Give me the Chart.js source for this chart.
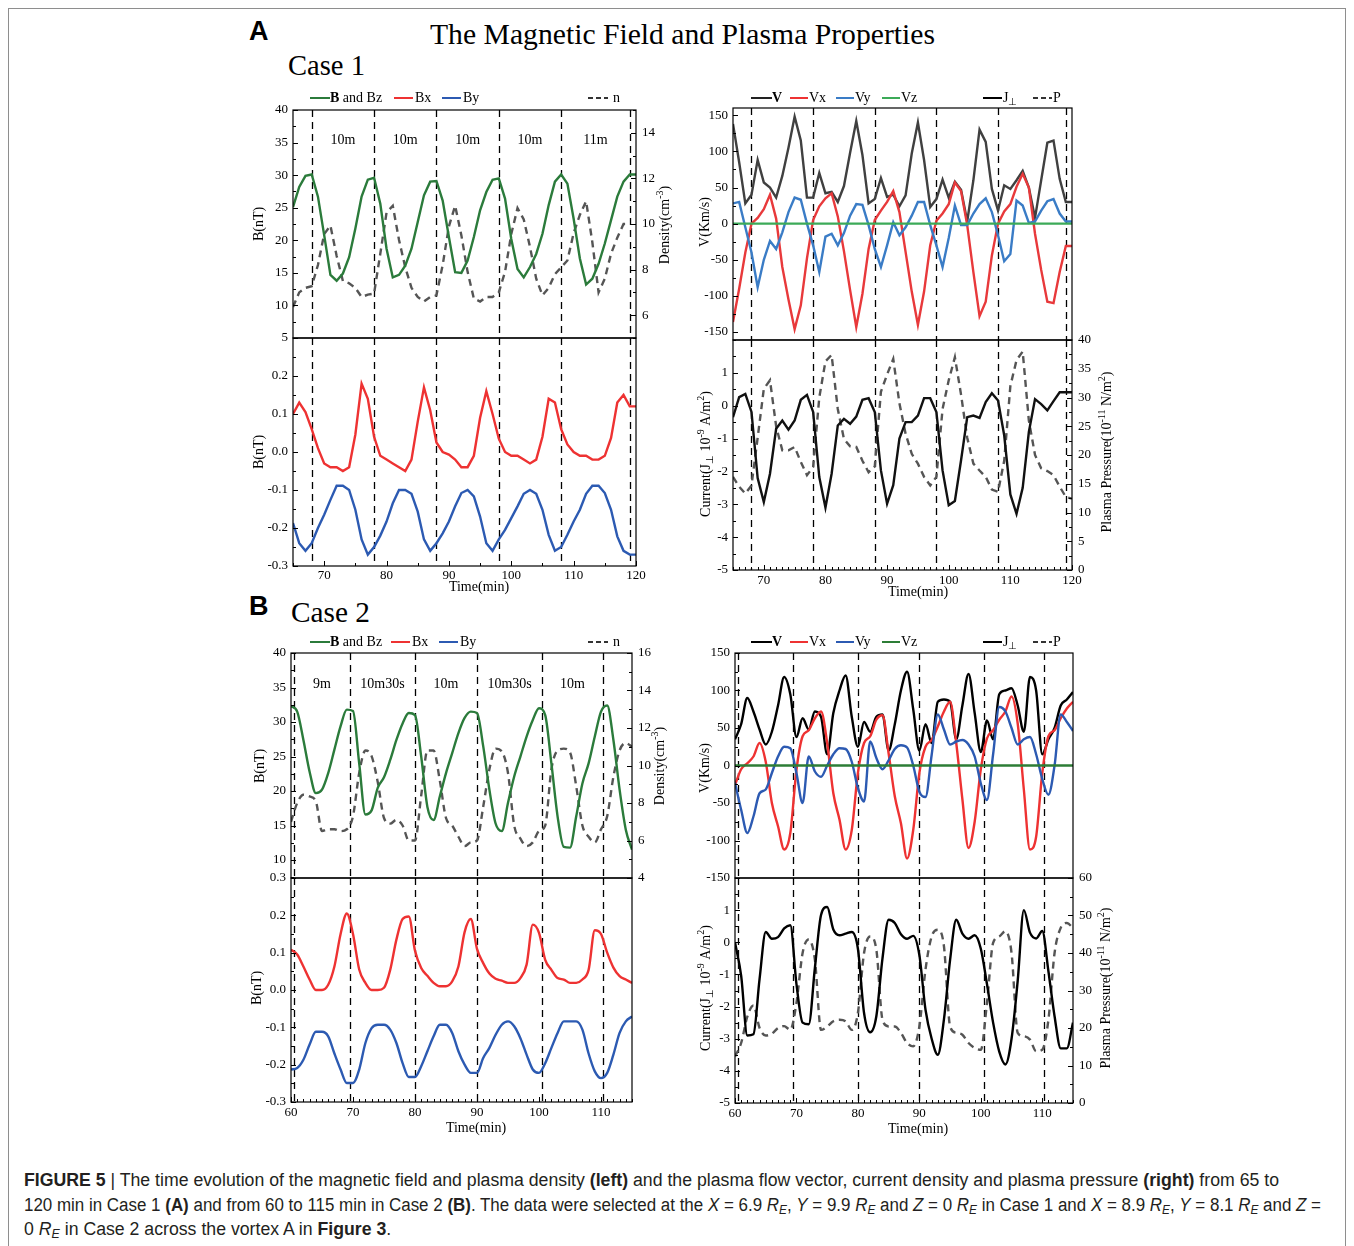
<!DOCTYPE html>
<html>
<head>
<meta charset="utf-8">
<title>Figure 5</title>
<script src="https://cdn.jsdelivr.net/npm/chart.js@4.4.1/dist/chart.umd.min.js"></script>
<style>
  html, body { margin:0; padding:0; background:#fff; }
  body { width:1354px; height:1246px; position:relative; overflow:hidden; }
  #box { position:absolute; left:8px; top:8px; width:1338px; height:1260px; border:1px solid #8e8e8e; box-sizing:border-box; }
  canvas { position:absolute; }
  .t { position:absolute; white-space:nowrap; color:#000; transform-origin:0 50%; }
  .serif { font-family:"Liberation Serif","Times New Roman",serif; }
  .sans { font-family:"Liberation Sans",Arial,sans-serif; }
  .leg { position:absolute; white-space:nowrap; font:14px "Liberation Serif","Times New Roman",serif; line-height:16px; color:#000; }
  .leg sub { font-size:10px; vertical-align:-3px; line-height:0; }
  .ln { display:inline-block; height:2.5px; vertical-align:middle; position:relative; top:-1px; }
  .cap { position:absolute; left:24px; white-space:nowrap; font:18px "Liberation Sans",Arial,sans-serif; line-height:24px; color:#231f20; transform-origin:0 50%; }
  .cap sub { font-size:0.7em; vertical-align:-0.25em; line-height:0; }
</style>
</head>
<body>
<div id="box"></div>
<div class="t sans" style="left:249px;top:18px;font-size:27px;font-weight:bold;line-height:27px;">A</div>
<div class="t serif" id="ttl" style="left:430px;top:20px;font-size:29px;line-height:29px;">The Magnetic Field and Plasma Properties</div>
<div class="t serif" id="case1" style="left:288px;top:51px;font-size:29px;line-height:29px;">Case 1</div>
<div class="t sans" style="left:249px;top:593px;font-size:27px;font-weight:bold;line-height:27px;">B</div>
<div class="t serif" id="case2" style="left:291px;top:598px;font-size:29px;line-height:29px;">Case 2</div>

<div class="cap" id="cap1" style="top:1168px"><b>FIGURE 5</b> | The time evolution of the magnetic field and plasma density <b>(left)</b> and the plasma flow vector, current density and plasma pressure <b>(right)</b> from 65 to</div>
<div class="cap" id="cap2" style="top:1193px">120 min in Case 1 <b>(A)</b> and from 60 to 115 min in Case 2 <b>(B)</b>. The data were selected at the <i>X</i> = 6.9 <i>R<sub>E</sub></i>, <i>Y</i> = 9.9 <i>R<sub>E</sub></i> and <i>Z</i> = 0 <i>R<sub>E</sub></i> in Case 1 and <i>X</i> = 8.9 <i>R<sub>E</sub></i>, <i>Y</i> = 8.1 <i>R<sub>E</sub></i> and <i>Z</i> =</div>
<div class="cap" id="cap3" style="top:1217px">0 <i>R<sub>E</sub></i> in Case 2 across the vortex A in <b>Figure 3</b>.</div>

<script>
// ---------------- DATA ----------------
// Case 1 (65 - 120 min)
const T1 = [65,66,67,68,69,70,71,72,73,74,75,76,77,78,79,80,81,82,83,84,85,86,87,88,89,90,91,92,93,94,95,96,97,98,99,100,101,102,103,104,105,106,107,108,109,110,111,112,113,114,115,116,117,118,119,120];
const B1 = [25.1,28.2,29.9,30.1,26.7,20.8,14.7,13.8,14.9,17.4, 21.8,26.7,29.3,29.6,25.6,18.7,14.3,14.7,16.1,18.7, 22.8,26.9,29.0,29.1,26.1,20.5,15.1,15.0,16.9,20.5, 24.6,27.4,29.3,29.5,26.4,20.2,15.6,14.3,15.9,17.9, 21.0,25.4,29.0,30.1,28.7,23.3,17.2,13.2,14.1,16.4, 19.5,23.1,26.7,29.0,30.1,30.1];
const N1 = [6.36,7.0,7.2,7.27,8.2,9.56,9.93,8.6,7.5,7.4, 7.2,6.8,6.9,6.95,8.7,10.5,10.8,9.3,8.1,7.2, 6.8,6.6,6.8,6.87,8.2,9.9,10.8,9.5,7.9,6.73, 6.6,6.8,6.8,7.0,7.9,9.56,10.7,10.2,9.0,7.6, 6.87,7.2,7.8,8.1,8.4,9.6,10.4,11.0,9.2,7.0, 7.6,8.7,9.4,10.0,10.0,null];
const BX1 = [0.10,0.13,0.105,0.06,0.01,-0.03,-0.04,-0.04,-0.05,-0.04, 0.046,0.18,0.14,0.04,-0.01,-0.02,-0.03,-0.04,-0.05,-0.02, 0.08,0.17,0.11,0.025,0.0,-0.007,-0.02,-0.04,-0.04,-0.01, 0.09,0.16,0.10,0.035,0.0,-0.01,-0.01,-0.02,-0.03,-0.02, 0.04,0.14,0.13,0.06,0.02,0.0,-0.01,-0.01,-0.02,-0.02, -0.01,0.037,0.13,0.15,0.12,0.12];
const BY1 = [-0.187,-0.24,-0.26,-0.24,-0.20,-0.165,-0.126,-0.089,-0.089,-0.10, -0.152,-0.23,-0.27,-0.25,-0.22,-0.183,-0.135,-0.10,-0.10,-0.11, -0.157,-0.23,-0.26,-0.24,-0.214,-0.183,-0.143,-0.108,-0.10,-0.117, -0.17,-0.24,-0.26,-0.23,-0.205,-0.174,-0.143,-0.11,-0.10,-0.11, -0.152,-0.218,-0.26,-0.25,-0.218,-0.183,-0.152,-0.11,-0.089,-0.089, -0.108,-0.152,-0.222,-0.26,-0.27,-0.27];
const V1 = [138,85,28,40,88,57,50,36,66,105, 148,115,36,36,70,42,44,30,52,98, 142,95,28,34,63,37,40,24,39,97, 140,88,23,34,61,36,58,47,3,60, 130,113,48,18,53,48,60,73,50,8, 60,112,115,62,30,30];
const VX1 = [-136,-90,-40,0,8,20,40,7,-60,-105, -146,-113,-48,5,24,35,42,10,-38,-92, -143,-97,-35,5,18,30,45,16,-39,-94, -140,-94,-30,4,14,27,57,45,-2,-67, -128,-108,-44,0,17,27,51,69,50,-14, -64,-108,-110,-67,-31,-31];
const VY1 = [28,30,-5,-40,-88,-50,-24,-35,-12,16, 36,33,0,-30,-67,-18,-14,-30,-13,11, 27,26,-2,-35,-60,-30,2,-16,-5,11, 30,30,-2,-30,-60,-20,25,-2,-2,14, 27,35,16,-16,-52,-42,32,25,1,3, 18,31,34,14,3,3];
const VZ1 = [0,0,0,0,0,0,0,0,0,0, 0,0,0,0,0,0,0,0,0,0, 0,0,0,0,0,0,0,0,0,0, 0,0,0,0,0,0,0,0,0,0, 0,0,0,0,0,0,0,0,0,0, 0,0,0,0,0,0];
const J1 = [-0.35,0.26,0.36,-0.19,-2.2,-2.93,-2.07,-0.7,-0.45,-0.73, -0.45,0.18,0.33,-0.19,-2.17,-3.1,-2.07,-0.6,-0.4,-0.55, -0.33,0.18,0.23,-0.19,-1.97,-2.98,-2.42,-1.0,-0.5,-0.5, -0.3,0.23,0.23,-0.19,-1.97,-3.03,-2.9,-1.66,-0.35,-0.3, -0.37,0.11,0.38,0.16,-0.9,-2.7,-3.29,-2.5,-0.8,0.2, 0.05,-0.14,0.14,0.41,0.41,0.41];
const P1 = [16.2,14.5,13.3,14.7,23,31.5,33,25,20.8,20.8, 21.4,18.8,16.5,17.9,30,36.3,37.4,28,22.8,21.5, 21.4,19,17,18,31,34,36.7,29,23.7,20.2, 18.5,16.2,14.7,16.2,28,33,37,30.5,23,18.5, 17.3,16.2,14,13.6,19,32,36.5,38,26,20, 17.7,17.2,16.5,14.5,12.7,12.4];
const DIV1 = [68,78,88,98,108,119];
const PER1 = ['10m','10m','10m','10m','11m'];

// Case 2 (60 - 115 min)
const T2 = [60,61,62,63,64,65,66,67,68,69,70,71,72,73,74,75,76,77,78,79,80,81,82,83,84,85,86,87,88,89,90,91,92,93,94,95,96,97,98,99,100,101,102,103,104,105,106,107,108,109,110,111,112,113,114,115];
const B2 = [32.3,31.5,27.4,22.8,19.7,20.2,22.6,26,29.4,31.8, 31.6,24,16.6,17.2,20.5,22,24.5,27.4,29.8,31.3, 31,25,17.7,15.8,19.2,22.6,25.5,28.4,30.6,31.5, 31.3,26.5,20.2,15.3,14.2,18.3,22.1,25,27.9,30.3, 32,31,24,16.3,11.9,11.8,16.3,21.1,24,27.9, 31.5,32.4,27.4,20.2,14.4,11.5];
const N2 = [7.0,8.0,8.44,8.35,8.1,6.5,6.6,6.6,6.5,6.6, 7.3,9.6,10.8,10.5,9.1,7.2,6.9,7.1,6.8,6.0, 6.0,8.4,10.8,10.8,9.2,7.2,6.8,6.2,5.7,5.9, 6.0,7.8,9.8,10.9,10.75,9.6,6.8,6.1,5.7,5.9, 6.5,6.8,9.8,10.8,10.9,10.7,8.9,6.8,6.2,5.9, 6.6,7.3,9.4,10.8,11.2,11.0];
const BX2 = [0.108,0.095,0.063,0.028,0.0,0.0,0.014,0.063,0.15,0.205, 0.15,0.055,0.019,0.0,0.0,0.006,0.054,0.135,0.19,0.197, 0.105,0.059,0.038,0.019,0.01,0.01,0.023,0.063,0.155,0.19, 0.11,0.072,0.044,0.03,0.025,0.019,0.019,0.032,0.068,0.175, 0.153,0.081,0.054,0.032,0.028,0.019,0.019,0.028,0.054,0.16, 0.15,0.1,0.06,0.037,0.028,0.019];
const BY2 = [-0.213,-0.209,-0.187,-0.146,-0.112,-0.112,-0.124,-0.17,-0.213,-0.249, -0.249,-0.213,-0.142,-0.102,-0.093,-0.093,-0.106,-0.142,-0.196,-0.233, -0.233,-0.204,-0.164,-0.124,-0.093,-0.093,-0.115,-0.164,-0.2,-0.222, -0.222,-0.182,-0.155,-0.12,-0.093,-0.084,-0.097,-0.129,-0.173,-0.213, -0.222,-0.196,-0.155,-0.115,-0.084,-0.084,-0.084,-0.106,-0.17,-0.218, -0.236,-0.222,-0.173,-0.115,-0.084,-0.071];
const V2 = [35,55,90,72,48,28,45,80,118,95, 38,63,48,72,65,15,70,100,120,65, 25,58,45,65,68,20,55,100,125,75, 20,55,30,85,88,85,35,80,122,70, 18,60,35,95,100,103,80,45,118,100, 15,35,50,80,88,98];
const VX2 = [-26,-5,3,12,30,5,-50,-81,-112,-90, -6,39,47,63,72,30,-37,-72,-112,-86, -10,30,39,61,67,16,-41,-77,-124,-86, -10,25,34,52,72,85,30,-45,-110,-75, -5,36,47,61,72,92,56,-32,-112,-95, -10,39,47,63,76,85];
const VY2 = [-23,-59,-90,-68,-37,-32,-10,12,25,23, -10,-50,12,-8,-15,0,15,23,22,5, -30,-48,32,10,-5,7,22,27,24,0, -35,-42,14,68,48,28,32,34,28,12, -24,-46,15,78,72,50,28,35,38,15, -18,-39,0,68,58,46];
const VZ2 = [0,0,0,0,0,0,0,0,0,0, 0,0,0,0,0,0,0,0,0,0, 0,0,0,0,0,0,0,0,0,0, 0,0,0,0,0,0,0,0,0,0, 0,0,0,0,0,0,0,0,0,0, 0,0,0,0,0,0];
const J2 = [0.0,-1.04,-2.9,-2.86,-1.14,0.32,0.11,0.16,0.43,0.53, -1.3,-2.5,-2.55,-0.8,0.85,1.1,0.4,0.22,0.27,0.32, -0.2,-2.2,-2.8,-2.3,-0.5,0.7,0.6,0.25,0.11,0.2, -0.4,-2.1,-3.0,-3.5,-2.4,-0.55,0.7,0.27,0.11,0.22, -0.2,-1.3,-2.5,-3.4,-3.8,-3.0,-1.2,1.0,0.3,0.12, 0.35,-0.9,-2.3,-3.3,-3.3,-2.5];
const P2 = [12.4,16,23,26,20,18,18.5,20,20.5,19.5, 26.7,40,43.6,38.2,19.5,20.4,21.8,22.2,21.8,19.5, 24,40,44.4,40.9,22.2,20.4,20.4,18.7,16,15.1, 20.4,35.6,44.4,46.2,41.8,20.4,18.7,18.2,16,14.7, 14.2,26.7,42.7,44.4,45.8,40,18.7,17.8,16.9,13.8, 14.2,22.2,40,46.7,48,46.7];
const DIV2 = [60.5,69.5,80,90,100.5,110.3];
const PER2 = ['9m','10m30s','10m','10m30s','10m'];

// Tick labels
const XT1 = [70,80,90,100,110,120];
const XT2 = [60,70,80,90,100,110];
const BT1 = [5,10,15,20,25,30,35,40];
const NT1 = [6,8,10,12,14];
const BXT1 = [-0.3,-0.2,-0.1,0,0.1,0.2];
const VT = [-150,-100,-50,0,50,100,150];
const JT = [-5,-4,-3,-2,-1,0,1];
const PT1 = [0,5,10,15,20,25,30,35,40];
const BT2 = [10,15,20,25,30,35,40];
const NT2 = [4,6,8,10,12,14,16];
const BXT2 = [-0.3,-0.2,-0.1,0,0.1,0.2,0.3];
const PT2 = [0,10,20,30,40,50,60];

// ---------------- RENDERING ----------------
const FONT = '"Liberation Serif","Times New Roman",serif';
const GREEN = '#2b7b3b', RED = '#ee3232', BLUE = '#2c5ab2', DASHC = '#555555';
const V1C = '#404040', VX1C = '#e8393b', VY1C = '#3a7cc6', VZ1C = '#3caa58';
const VZ2C = '#2d7d36';

function parseRich(s){
  const out = []; const re = /\^\{([^}]*)\}|_\{([^}]*)\}|([^\^_]+)/g; let m;
  while ((m = re.exec(s))) {
    if (m[1] !== undefined) out.push({t:m[1], sup:true});
    else if (m[2] !== undefined) out.push({t:m[2], sub:true});
    else out.push({t:m[3]});
  }
  return out;
}
function drawRich(ctx, str, x, y, rot, size){
  const segs = parseRich(str);
  ctx.save(); ctx.translate(x, y); ctx.rotate(rot);
  ctx.fillStyle = '#000'; ctx.textBaseline = 'middle'; ctx.textAlign = 'left';
  const f = s => (s.sup || s.sub ? Math.round(size*0.68) : size) + 'px ' + FONT;
  let w = 0; segs.forEach(s => { ctx.font = f(s); w += ctx.measureText(s.t).width; });
  let cx = -w/2;
  segs.forEach(s => {
    ctx.font = f(s);
    const dy = s.sup ? -size*0.33 : (s.sub ? size*0.28 : 0);
    ctx.fillText(s.t, cx, dy); cx += ctx.measureText(s.t).width;
  });
  ctx.restore();
}
function stepVals(min, max, step){
  const a = []; if (!step) return a;
  for (let v = Math.ceil(min/step - 1e-9)*step; v <= max + 1e-9; v += step) a.push(+v.toFixed(6));
  return a;
}
function ds(T, Y, color, extra){
  return Object.assign({data: T.map((t,i) => ({x:t, y:Y[i]})), borderColor: color, backgroundColor: color,
    borderWidth: 2.4, pointRadius: 0, fill: false, spanGaps: true, tension: 0}, extra || {});
}
const f1 = v => (Math.abs(v) < 1e-9 ? 0 : v).toFixed(1);
const fi = v => String(v);

function makePanel(o){
  const M = o.M;
  const W = o.plot.r - o.plot.l + M.L + M.R;
  const H = o.plot.b - o.plot.t + M.T + M.B;
  const ox = o.plot.l - M.L, oy = o.plot.t - M.T;
  const cv = document.createElement('canvas');
  cv.width = W; cv.height = H;
  cv.style.left = ox + 'px'; cv.style.top = oy + 'px';
  cv.style.width = W + 'px'; cv.style.height = H + 'px';
  document.body.appendChild(cv);
  const tickFont = {family: FONT, size: 13};
  const hasX = !!o.x.labels;
  const scales = {
    x: { type:'linear', position:'bottom', min:o.x.min, max:o.x.max, display: hasX,
         grid:{display:false, drawTicks:false}, border:{display:false},
         ticks:{font:tickFont, color:'#000', padding:o.x.pad || 2, maxRotation:0, autoSkip:false, callback: fi} },
    y: { type:'linear', position:'left', min:o.y.min, max:o.y.max,
         grid:{display:false, drawTicks:false}, border:{display:false},
         ticks:{font:tickFont, color:'#000', padding:5, autoSkip:false, callback: o.y.fmt || fi},
         afterBuildTicks: s => { s.ticks = o.y.labels.map(v => ({value:v})); },
         afterFit: s => { s.width = M.L; } }
  };
  if (hasX) {
    scales.x.afterBuildTicks = s => { s.ticks = o.x.labels.map(v => ({value:v})); };
    scales.x.afterFit = s => { s.height = M.B; };
  }
  if (o.y2) {
    scales.y2 = { type:'linear', position:'right', min:o.y2.min, max:o.y2.max,
         grid:{display:false, drawTicks:false}, border:{display:false},
         ticks:{font:tickFont, color:'#000', padding:6, autoSkip:false, callback: o.y2.fmt || fi},
         afterBuildTicks: s => { s.ticks = o.y2.labels.map(v => ({value:v})); },
         afterFit: s => { s.width = M.R; } };
  }
  const deco = {
    id: 'deco',
    beforeDatasetsDraw(chart){
      const ctx = chart.ctx, a = chart.chartArea, sx = chart.scales.x;
      ctx.save();
      ctx.beginPath(); ctx.rect(a.left, a.top, a.right - a.left, a.bottom - a.top); ctx.clip();
      ctx.strokeStyle = '#000'; ctx.lineWidth = 1.3; ctx.setLineDash([7,5]);
      (o.dividers || []).forEach(v => {
        const x = Math.round(sx.getPixelForValue(v)) + 0.5;
        ctx.beginPath(); ctx.moveTo(x, a.top); ctx.lineTo(x, a.bottom); ctx.stroke();
      });
      ctx.restore();
    },
    afterDraw(chart){
      const ctx = chart.ctx, a = chart.chartArea, sx = chart.scales.x, sy = chart.scales.y;
      ctx.save();
      ctx.strokeStyle = '#000'; ctx.lineWidth = 1; ctx.setLineDash([]);
      ctx.beginPath();
      const tickL = (scale, vals, len) => vals.forEach(v => { const p = Math.round(scale.getPixelForValue(v)) + 0.5; ctx.moveTo(a.left, p); ctx.lineTo(a.left + len, p); });
      const tickR = (scale, vals, len) => vals.forEach(v => { const p = Math.round(scale.getPixelForValue(v)) + 0.5; ctx.moveTo(a.right, p); ctx.lineTo(a.right - len, p); });
      const tickB = (scale, vals, len) => vals.forEach(v => { const p = Math.round(scale.getPixelForValue(v)) + 0.5; ctx.moveTo(p, a.bottom); ctx.lineTo(p, a.bottom - len); });
      tickL(sy, o.y.labels, 5);
      tickL(sy, stepVals(o.y.min, o.y.max, o.y.minor), 3);
      if (o.y2) { const s2 = chart.scales.y2; tickR(s2, o.y2.labels, 5); tickR(s2, stepVals(o.y2.min, o.y2.max, o.y2.minor), 3); }
      if (hasX) { tickB(sx, o.x.labels, 5); tickB(sx, stepVals(o.x.min, o.x.max, o.x.minor), 3); }
      ctx.stroke();
      ctx.lineWidth = 1.2;
      ctx.strokeRect(a.left, a.top, a.right - a.left, a.bottom - a.top);
      if (o.periods) {
        ctx.fillStyle = '#000'; ctx.font = '14px ' + FONT; ctx.textAlign = 'center'; ctx.textBaseline = 'middle';
        o.periods.labels.forEach((s, i) => {
          const x = (sx.getPixelForValue(o.dividers[i]) + sx.getPixelForValue(o.dividers[i+1])) / 2;
          ctx.fillText(s, x, sy.getPixelForValue(o.periods.y));
        });
      }
      ctx.restore();
      (o.titles || []).forEach(t => drawRich(ctx, t.s, t.x - ox, t.y - oy, t.rot === undefined ? -Math.PI/2 : t.rot, 14));
    }
  };
  new Chart(cv.getContext('2d'), {
    type: 'line',
    data: { datasets: o.datasets },
    options: {
      responsive: false, animation: false, devicePixelRatio: 1,
      layout: { padding: { left: 0, top: M.T, right: o.y2 ? 0 : M.R, bottom: hasX ? 0 : M.B } },
      plugins: { legend: {display:false}, tooltip: {enabled:false} },
      scales: scales
    },
    plugins: [deco]
  });
}

const MT = {L:60, R:60, T:14, B:14};
const MB = {L:60, R:60, T:14, B:40};
const DASH = {borderDash:[7,5], borderColor: DASHC, borderWidth: 2.4};
const SM = {cubicInterpolationMode:'monotone'};

// ---- Case 1 ----
makePanel({ plot:{l:293, t:110, r:636, b:338}, M:MT,
  x:{min:65, max:120}, y:{min:5, max:40, labels:BT1, minor:2.5}, y2:{min:5, max:15, labels:NT1, minor:1},
  datasets:[ ds(T1, B1, GREEN), ds(T1, N1, DASHC, Object.assign({yAxisID:'y2'}, DASH)) ],
  dividers: DIV1, periods:{labels:PER1, y:35.4},
  titles:[ {s:'B(nT)', x:259, y:224}, {s:'Density(cm^{-3})', x:665, y:225} ] });
makePanel({ plot:{l:293, t:338, r:636, b:566}, M:MB,
  x:{min:65, max:120, labels:XT1, minor:5, pad:2}, y:{min:-0.3, max:0.3, labels:BXT1, minor:0.05, fmt:f1}, y2:null,
  datasets:[ ds(T1, BX1, RED), ds(T1, BY1, BLUE) ],
  dividers: DIV1,
  titles:[ {s:'B(nT)', x:259, y:452}, {s:'Time(min)', x:479, y:587, rot:0} ] });
makePanel({ plot:{l:733, t:108, r:1072, b:340}, M:MT,
  x:{min:65, max:120}, y:{min:-161, max:160, labels:VT, minor:25}, y2:null,
  datasets:[ ds(T1, VZ1, VZ1C), ds(T1, VY1, VY1C), ds(T1, VX1, VX1C), ds(T1, V1, V1C) ],
  dividers: DIV1,
  titles:[ {s:'V(Km/s)', x:705, y:222} ] });
makePanel({ plot:{l:733, t:340, r:1072, b:570}, M:MB,
  x:{min:65, max:120, labels:XT1, minor:1, pad:3}, y:{min:-5, max:2, labels:JT, minor:0.5}, y2:{min:0, max:40, labels:PT1, minor:2.5},
  datasets:[ ds(T1, J1, '#111111'), ds(T1, P1, DASHC, Object.assign({yAxisID:'y2'}, DASH)) ],
  dividers: DIV1,
  titles:[ {s:'Current(J_{⊥} 10^{-9} A/m^{2})', x:706, y:454}, {s:'Plasma Pressure(10^{-11} N/m^{2})', x:1107, y:452}, {s:'Time(min)', x:918, y:592, rot:0} ] });

// ---- Case 2 ----
makePanel({ plot:{l:291, t:653, r:632, b:878}, M:MT,
  x:{min:60, max:115}, y:{min:7.4, max:40, labels:BT2, minor:2.5}, y2:{min:4, max:16, labels:NT2, minor:1},
  datasets:[ ds(T2, B2, GREEN, SM), ds(T2, N2, DASHC, Object.assign({yAxisID:'y2'}, DASH, SM)) ],
  dividers: DIV2, periods:{labels:PER2, y:35.5},
  titles:[ {s:'B(nT)', x:260, y:766}, {s:'Density(cm^{-3})', x:660, y:766} ] });
makePanel({ plot:{l:291, t:878, r:632, b:1102}, M:MB,
  x:{min:60, max:115, labels:XT2, minor:1, pad:3}, y:{min:-0.3, max:0.3, labels:BXT2, minor:0.05, fmt:f1}, y2:null,
  datasets:[ ds(T2, BX2, RED, SM), ds(T2, BY2, BLUE, SM) ],
  dividers: DIV2,
  titles:[ {s:'B(nT)', x:257, y:988}, {s:'Time(min)', x:476, y:1128, rot:0} ] });
makePanel({ plot:{l:735, t:653, r:1073, b:878}, M:MT,
  x:{min:60, max:115}, y:{min:-150, max:150, labels:VT, minor:25}, y2:null,
  datasets:[ ds(T2, VZ2, VZ2C, SM), ds(T2, VY2, BLUE, SM), ds(T2, VX2, RED, SM), ds(T2, V2, '#000000', SM) ],
  dividers: DIV2,
  titles:[ {s:'V(Km/s)', x:705, y:768} ] });
makePanel({ plot:{l:735, t:878, r:1073, b:1103}, M:MB,
  x:{min:60, max:115, labels:XT2, minor:1, pad:3}, y:{min:-5, max:2, labels:JT, minor:0.5}, y2:{min:0, max:60, labels:PT2, minor:5},
  datasets:[ ds(T2, J2, '#000000', SM), ds(T2, P2, DASHC, Object.assign({yAxisID:'y2'}, DASH, SM)) ],
  dividers: DIV2,
  titles:[ {s:'Current(J_{⊥} 10^{-9} A/m^{2})', x:706, y:988}, {s:'Plasma Pressure(10^{-11} N/m^{2})', x:1106, y:988}, {s:'Time(min)', x:918, y:1129, rot:0} ] });

// ---- Legends (HTML text) ----
function legend(x, yc, color, dashed, html, gap, w){
  const d = document.createElement('div'); d.className = 'leg';
  d.style.left = x + 'px'; d.style.top = (yc - 8) + 'px';
  const bg = dashed ? `repeating-linear-gradient(to right, ${color} 0 5px, transparent 5px 8px)` : color;
  d.innerHTML = `<span class="ln" style="width:${w || 20}px;background:${bg};margin-right:${gap}px"></span>${html}`;
  document.body.appendChild(d);
}
[[98, 'c1'], [642, 'c2']].forEach(([yc, k]) => {
  const l2 = k === 'c2';
  legend(310, yc, GREEN, false, '<b>B</b> and Bz', 0, 20);
  legend(l2 ? 391 : 394, yc, RED, false, 'Bx', 2, 19);
  legend(l2 ? 439 : 442, yc, BLUE, false, 'By', 2, 19);
  legend(588, yc, '#333', true, 'n', 5, 20);
  legend(751, yc, l2 ? '#000' : '#222', false, '<b>V</b>', 0, 21);
  legend(790, yc, RED, false, 'Vx', 1, 18);
  legend(836, yc, l2 ? BLUE : VY1C, false, 'Vy', 1, 18);
  legend(882, yc, l2 ? VZ2C : VZ1C, false, 'Vz', 1, 18);
  legend(983, yc, '#000', false, 'J<sub>⊥</sub>', 1, 19);
  legend(1033, yc, '#333', true, 'P', 1, 19);
});

// ---- Fit headline / caption widths ----
function fit(id, target){
  const el = document.getElementById(id);
  const w = el.getBoundingClientRect().width;
  const s = target / w; el.style.transform = `scaleX(${s})`; return s;
}
fit('ttl', 505); fit('case1', 77); fit('case2', 79);
const s1 = fit('cap1', 1255); fit('cap2', 1297);
document.getElementById('cap3').style.transform = `scaleX(${s1})`;
</script>
</body>
</html>
